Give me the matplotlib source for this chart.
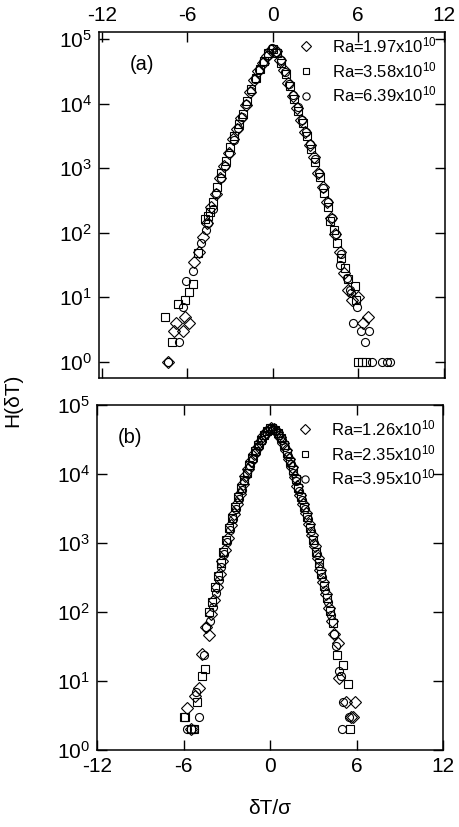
import matplotlib
matplotlib.use("Agg")
import matplotlib.pyplot as plt
from matplotlib.ticker import LogLocator, LogFormatterSciNotation, NullLocator

plt.rcParams['font.family'] = ['Liberation Sans', 'DejaVu Sans']
plt.rcParams['mathtext.fontset'] = 'custom'
plt.rcParams['mathtext.rm'] = 'Liberation Sans'
plt.rcParams['mathtext.it'] = 'Liberation Sans:italic'
plt.rcParams['axes.unicode_minus'] = False

# ---------------- panel (a) ----------------
a_labels = ["Ra=1.97x10$^{10}$", "Ra=3.58x10$^{10}$", "Ra=6.39x10$^{10}$"]

a1_x = [-7.34, -6.92, -6.8, -6.33, -6.16, -5.86, -5.5, -5.2, -4.9, -4.6, -4.3, -4.0, -3.7, -3.4,
        -3.1, -2.8, -2.5, -2.2, -1.9, -1.6, -1.3, -1.0, -0.7, -0.4, -0.1, 0.2, 0.5, 0.8, 1.1, 1.4,
        1.7, 2.0, 2.3, 2.6, 2.9, 3.2, 3.5, 3.8, 4.1, 4.4, 4.7, 5.0, 5.3, 5.6, 6.02, 6.33, 6.66]
a1_y = [1, 3, 4, 3, 5, 4, 35, 50, 85, 140, 250, 400, 700, 1100,
        1700, 2800, 4000, 6000, 9500, 15000, 23000, 32000, 42000, 55000, 68000, 65000, 48000, 33000, 21000, 13000,
        8500, 5500, 3600, 2300, 1500, 850, 520, 300, 170, 95, 50, 24, 13, 9, 10, 4, 5]

a2_x = [-7.57, -7.1, -6.68, -6.14, -5.91, -5.63, -5.27, -4.75, -4.56, -4.4, -4.2, -3.9, -3.6, -3.3,
        -3.0, -2.7, -2.4, -2.1, -1.8, -1.5, -1.2, -0.9, -0.6, -0.3, 0.0, 0.3, 0.6, 0.9, 1.2, 1.5,
        1.8, 2.1, 2.4, 2.7, 3.0, 3.3, 3.6, 3.9, 4.02, 4.3, 4.54, 4.8, 5.08, 5.3, 5.79, 5.86,
        6.02, 6.26, 6.56]
a2_y = [5, 2, 8, 9, 12, 16, 48, 165, 185, 210, 300, 520, 850, 1300,
        2100, 3200, 4800, 7000, 11000, 17000, 25000, 35000, 46000, 60000, 70000, 60000, 43000, 29000, 19000, 12000,
        7600, 5000, 3200, 2000, 1250, 720, 420, 250, 150, 110, 70, 40, 28, 19, 15, 9,
        1, 1, 1]

a3_x = [-7.34, -6.6, -6.33, -6.09, -5.63, -5.03, -4.66, -4.52, -4.2, -3.95, -3.65, -3.35, -3.05, -2.75,
        -2.45, -2.15, -1.85, -1.55, -1.25, -0.95, -0.65, -0.35, -0.05, 0.25, 0.55, 0.85, 1.15, 1.45,
        1.75, 2.05, 2.35, 2.65, 2.95, 3.25, 3.55, 3.85, 4.15, 4.45, 4.73, 4.8, 5.2, 5.44, 5.48,
        5.91, 5.67, 6.21, 6.73, 6.45, 6.96, 7.67, 8.02, 8.26]
a3_y = [1, 2, 7, 18, 26, 70, 110, 140, 230, 420, 700, 1100, 1750, 2700,
        4200, 6300, 10000, 15500, 24000, 33000, 44000, 57000, 72000, 63000, 47000, 31000, 20000, 13500,
        8800, 5600, 3700, 2400, 1400, 850, 500, 300, 170, 95, 32, 47, 20, 13, 11.5,
        7, 4, 3, 3, 2, 1, 1, 1, 1]

# ---------------- panel (b) ----------------
b_labels = ["Ra=1.26x10$^{10}$", "Ra=2.35x10$^{10}$", "Ra=3.95x10$^{10}$"]

b1_x = [-5.77, -5.5, -5.2, -4.94, -4.75, -4.45, -4.24, -4.1, -3.9, -3.7, -3.5, -3.3, -3.1, -2.9,
        -2.7, -2.5, -2.3, -2.1, -1.9, -1.7, -1.5, -1.3, -1.1, -0.9, -0.7, -0.5, -0.3, -0.1, 0.1,
        0.3, 0.5, 0.7, 0.9, 1.1, 1.3, 1.5, 1.7, 1.9, 2.1, 2.3, 2.5, 2.7, 2.9, 3.1, 3.3, 3.5,
        3.7, 3.9, 4.1, 4.3, 4.47, 4.71, 4.82, 5.29, 5.88, 5.6, 5.75]
b1_y = [4, 2, 6, 8, 25, 60, 46, 95, 150, 230, 350, 550, 800, 1200,
        1800, 2600, 3700, 5200, 7200, 9300, 12000, 15500, 19500, 24000, 29000, 35000, 40000, 44000, 46000,
        45000, 40000, 34000, 28000, 22000, 16500, 12500, 9000, 6800, 5000, 3700, 2700, 1900, 1300, 900, 600, 400,
        270, 180, 115, 75, 48, 36, 11, 5, 5, 3, 3]

b2_x = [-6.0, -5.9, -5.45, -5.3, -5.06, -4.71, -4.52, -4.24, -4.03, -3.83, -3.63, -3.43, -3.23, -3.03,
        -2.83, -2.63, -2.43, -2.23, -2.03, -1.83, -1.63, -1.43, -1.23, -1.03, -0.83, -0.63, -0.43, -0.23,
        -0.03, 0.17, 0.37, 0.57, 0.77, 0.97, 1.17, 1.37, 1.57, 1.77, 1.97, 2.17, 2.37, 2.57, 2.77,
        2.97, 3.17, 3.37, 3.57, 3.77, 3.97, 4.17, 4.37, 4.66, 5.06, 5.41, 5.53]
b2_y = [3, 3, 2, 2, 5, 12, 15, 100, 140, 230, 330, 520, 750, 1100,
        1650, 2300, 3300, 4600, 6200, 8200, 10500, 13500, 17000, 21500, 26000, 31000, 37000, 42000,
        46000, 47000, 44000, 39000, 33000, 26000, 20000, 15000, 11500, 8500, 6300, 4600, 3300, 2400, 1650,
        1100, 750, 520, 350, 240, 160, 105, 70, 24, 17, 9, 2]

b3_x = [-5.76, -5.3, -5.1, -4.94, -4.6, -4.47, -4.17, -3.97, -3.77, -3.57, -3.37, -3.17, -2.97, -2.77,
        -2.57, -2.37, -2.17, -1.97, -1.77, -1.57, -1.37, -1.17, -0.97, -0.77, -0.57, -0.37, -0.17,
        0.03, 0.23, 0.43, 0.63, 0.83, 1.03, 1.23, 1.43, 1.63, 1.83, 2.03, 2.23, 2.43, 2.63, 2.83,
        3.03, 3.23, 3.43, 3.63, 3.83, 4.03, 4.23, 4.47, 4.6, 4.82, 4.94, 5.06, 5.5, 4.99]
b3_y = [2, 2, 7, 3, 24, 60, 75, 120, 190, 290, 450, 700, 1050, 1550,
        2200, 3100, 4300, 5900, 7900, 10200, 13000, 16500, 21000, 25500, 31000, 37000, 42000,
        45000, 45500, 42000, 37000, 31000, 24500, 18500, 14000, 10500, 7800, 5700, 4200, 3100, 2200, 1500,
        1000, 700, 470, 320, 210, 140, 90, 48, 32, 14, 12, 5, 3, 2]

x_ticks = [-12, -6, 0, 6, 12]

W, H = 459, 827
fig = plt.figure(figsize=(W / 100, H / 100), dpi=100)

ax_a = fig.add_axes([99 / W, 1 - 378 / H, 346 / W, 346 / H])
ax_b = fig.add_axes([97 / W, 1 - 750 / H, 346 / W, 345 / H])

mstyle = [dict(marker='D', ms=5.8), dict(marker='s', ms=5.2), dict(marker='o', ms=5.8)]

def draw(ax, xs, ys, labels, anchor):
    for (x, y), st, lab in zip(zip(xs, ys), mstyle, labels):
        ax.plot(x, y, linestyle='none', mfc='none', mec='black', mew=0.8,
                label=lab, **st)
    ax.set_yscale('log')
    ax.set_xlim(-12.2, 12.1)
    ax.set_xticks(x_ticks)
    ax.xaxis.set_minor_locator(NullLocator())
    ax.yaxis.set_major_locator(LogLocator(base=10, numticks=10))
    ax.yaxis.set_major_formatter(LogFormatterSciNotation())
    ax.yaxis.set_minor_locator(NullLocator())
    for s in ax.spines.values():
        s.set_linewidth(1.1)
    ax.tick_params(which='major', direction='in', length=7, width=1.0,
                   top=True, right=True, labelsize=15, pad=5)
    ax.legend(loc='upper right', bbox_to_anchor=anchor, frameon=False, fontsize=12,
              handlelength=0.9, handletextpad=1.15, labelspacing=0.3,
              borderpad=0.0, borderaxespad=0.0, markerscale=0.9)

draw(ax_a, [a1_x, a2_x, a3_x], [a1_y, a2_y, a3_y], a_labels, (0.977, 0.991))
ax_a.set_ylim(10 ** -0.25, 10 ** 5.11)
ax_a.tick_params(labeltop=True, labelbottom=False)
ax_a.text(0.125, 0.905, '(a)', transform=ax_a.transAxes, fontsize=14.5,
          ha='center', va='center')

draw(ax_b, [b1_x, b2_x, b3_x], [b1_y, b2_y, b3_y], b_labels, (0.98, 0.962))
ax_b.set_xlim(-12, 12)
ax_b.set_ylim(1, 1e5)
ax_b.text(0.095, 0.905, '(b)', transform=ax_b.transAxes, fontsize=14.5,
          ha='center', va='center')

fig.text(0.028, 0.516, 'H(δT)', rotation=90, fontsize=15, ha='center', va='center')
fig.text(270 / W, 1 - 809 / H, 'δT/σ', fontsize=15, ha='center', va='center')

fig.savefig('out.png', dpi=100)
